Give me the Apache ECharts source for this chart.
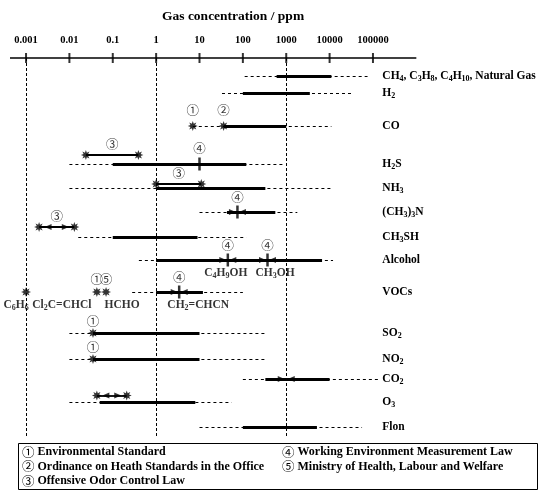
<!DOCTYPE html>
<html><head><meta charset="utf-8">
<script src="https://cdn.jsdelivr.net/npm/echarts@6/dist/echarts.min.js"></script>
<style>html,body{margin:0;padding:0;background:#fff}#c{width:545px;height:496px}</style>
</head><body><div id="c"></div>
<script>
// ================= DATA =================
const tickValues = [0.001, 0.01, 0.1, 1, 10, 100, 1000, 10000, 100000];
const tickLabels = ['0.001', '0.01', '0.1', '1', '10', '100', '1000', '10000', '100000'];
const refLines = [0.001, 1, 1000];

const rowNames = ['CH_4, C_3H_8, C_4H_{10}, Natural Gas', 'H_2', 'CO', 'H_2S', 'NH_3', '(CH_3)_3N',
  'CH_3SH', 'Alcohol', 'VOCs', 'SO_2', 'NO_2', 'CO_2', 'O_3', 'Flon'];
// dashed (extended) ranges, ppm
const dashedLo = [110, 33, 7, 0.01, 0.01, 10, 0.016, 0.4, 0.28, 0.01, 0.01, 100, 0.01, 10];
const dashedHi = [75000, 33000, 11000, 900, 11000, 1800, 120, 12000, 100, 330, 330, 130000, 55, 56000];
// solid (main) ranges, ppm
const solidLo = [600, 100, 36, 0.1, 1, 43, 0.1, 1, 1, 0.035, 0.035, 330, 0.05, 100];
const solidHi = [11000, 3500, 1000, 120, 330, 560, 9, 6700, 12, 10, 10, 10000, 8, 5100];

// standard values drawn as stars
const starRow = [2, 2, 8, 8, 8, 9, 10];
const starVal = [7, 36, 0.001, 0.043, 0.07, 0.035, 0.035];
// standard values drawn as crosses
const crossRow = [3, 5, 7, 7, 8];
const crossVal = [10, 75, 45, 370, 3.4];
// values pointed at by a pair of arrows
const arrowRow = [5, 7, 7, 8, 11];
const arrowVal = [75, 45, 370, 3.4, 1000];
// circled law numbers
const lawRow = [2, 2, 3, 5, 7, 7, 8, 8, 8, 9, 10];
const lawVal = [7, 36, 10, 75, 45, 370, 3.4, 0.043, 0.07, 0.035, 0.035];
const lawMark = ['①', '②', '④', '④', '④', '④', '④', '①', '⑤', '①', '①'];
// Offensive Odor Control Law ranges (③)
const odorRow = [3, 4, 6, 12];
const odorLo = [0.024, 1, 0.002, 0.043];
const odorHi = [0.39, 11, 0.013, 0.21];
const odorArrows = [false, false, true, true];
const odorLabelled = [true, true, true, false];
// compound names
const compRow = [7, 7, 8, 8, 8, 8];
const compVal = [45, 370, 0.001, 0.043, 0.07, 3.4];
const compName = ['C_4H_9OH', 'CH_3OH', 'C_6H_6', 'Cl_2C=CHCl', 'HCHO', 'CH_2=CHCN'];
// notes box
const notes1 = ['① Environmental Standard', '② Ordinance on Heath Standards in the Office', '③ Offensive Odor Control Law'];
const notes2 = ['④ Working Environment Measurement Law', '⑤ Ministry of Health, Labour and Welfare'];

// ================= LAYOUT / STYLE =================
const FONT = 'Liberation Serif';
const CJK = 'Noto Sans CJK JP';
const ROW_POS = [18, 35, 68, 106, 130, 154, 179, 202, 234, 275, 301, 321, 344, 369]; // px below axis
const Y_MAX = 380;
const ODOR_LIFT = [9, 4, 10, 6.5];
const LAW_LIFT = [16, 16, 16, 15, 15, 15, 15, 13, 13, 11.5, 12];
const COMP_OFF = [[-2, 13], [7.5, 13], [-10, 13], [-35, 13], [16, 13], [19, 13]];
const AXIS_START = Math.pow(10, -3.37);

function rt(s) { return s.replace(/_\{([^}]*)\}|_(.)/g, (m, a, b) => '{s|' + (a || b) + '}'); }
function subRich(fs) {
  return { s: { fontFamily: FONT, fontWeight: 'bold', fontSize: Math.round(fs * 0.72), verticalAlign: 'bottom', lineHeight: fs * 0.82, color: '#000' } };
}
function starPath(n, r1, r2) {
  let d = '';
  for (let i = 0; i < 2 * n; i++) {
    const r = i % 2 ? r2 : r1, a = Math.PI * i / n - Math.PI / 2;
    d += (i ? 'L' : 'M') + (r * Math.cos(a)).toFixed(3) + ' ' + (r * Math.sin(a)).toFixed(3);
  }
  return 'path://' + d + 'Z';
}
const STAR = starPath(8, 1, 0.5);

const series = [];
// axis line
series.push({
  type: 'line', data: [[AXIS_START, 0], [1e6, 0]], symbol: 'none', clip: false, silent: true, z: 5,
  lineStyle: { color: '#000', width: 1.6 }
});
// reference verticals
series.push({
  type: 'lines', coordinateSystem: 'cartesian2d', silent: true, z: 1, clip: false,
  lineStyle: { color: '#000', width: 1, type: [3, 2], opacity: 1 },
  data: refLines.map(v => ({ coords: [[v, 0], [v, Y_MAX]] }))
});
// axis ticks
series.push({
  type: 'scatter', data: tickValues.map(v => [v, 0]), symbol: 'rect', symbolSize: [2, 10], clip: false, silent: true, z: 5,
  itemStyle: { color: '#000' }
});
// dashed ranges
series.push({
  type: 'lines', coordinateSystem: 'cartesian2d', silent: true, z: 2,
  lineStyle: { color: '#000', width: 1, type: [3, 3], opacity: 1 },
  data: rowNames.map((n, i) => ({ coords: [[dashedLo[i], ROW_POS[i]], [dashedHi[i], ROW_POS[i]]] }))
});
// solid ranges
series.push({
  type: 'lines', coordinateSystem: 'cartesian2d', silent: true, z: 3,
  lineStyle: { color: '#000', width: 3, opacity: 1 },
  data: rowNames.map((n, i) => ({ coords: [[solidLo[i], ROW_POS[i]], [solidHi[i], ROW_POS[i]]] }))
});
// odor range connectors
series.push({
  type: 'lines', coordinateSystem: 'cartesian2d', silent: true, z: 3,
  lineStyle: { color: '#000', width: 1.8, opacity: 1 },
  data: odorRow.map((r, i) => ({ coords: [[odorLo[i], ROW_POS[r] - ODOR_LIFT[i]], [odorHi[i], ROW_POS[r] - ODOR_LIFT[i]]] }))
});
// stars (standards + odor ends)
const starData = starRow.map((r, i) => [starVal[i], ROW_POS[r]]);
odorRow.forEach((r, i) => { starData.push([odorLo[i], ROW_POS[r] - ODOR_LIFT[i]]); starData.push([odorHi[i], ROW_POS[r] - ODOR_LIFT[i]]); });
series.push({
  type: 'scatter', data: starData, symbol: STAR, symbolSize: 10, clip: false, silent: true, z: 6,
  itemStyle: { color: '#000' }
});
// crosses
series.push({
  type: 'scatter', data: crossRow.map((r, i) => [crossVal[i], ROW_POS[r]]), symbol: 'rect', symbolSize: [2.5, 13],
  clip: false, silent: true, z: 6, itemStyle: { color: '#000' }
});
// arrows pointing at a value
const arrowData = [];
arrowRow.forEach((r, i) => {
  arrowData.push({ value: [arrowVal[i], ROW_POS[r]], symbolRotate: -90, symbolOffset: [-5, 0] });
  arrowData.push({ value: [arrowVal[i], ROW_POS[r]], symbolRotate: 90, symbolOffset: [5, 0] });
});
odorRow.forEach((r, i) => {
  if (!odorArrows[i]) return;
  const y = ROW_POS[r] - ODOR_LIFT[i];
  arrowData.push({ value: [odorLo[i], y], symbolRotate: 90, symbolOffset: [9, 0] });
  arrowData.push({ value: [odorHi[i], y], symbolRotate: -90, symbolOffset: [-9, 0] });
});
series.push({
  type: 'scatter', data: arrowData, symbol: 'triangle', symbolSize: [6, 7], clip: false, silent: true, z: 6,
  itemStyle: { color: '#000' }
});
// circled law numbers
const lawData = lawRow.map((r, i) => ({ value: [lawVal[i], ROW_POS[r]], label: { formatter: lawMark[i], offset: [0, -LAW_LIFT[i]] } }));
odorRow.forEach((r, i) => {
  if (!odorLabelled[i]) return;
  lawData.push({ value: [Math.sqrt(odorLo[i] * odorHi[i]), ROW_POS[r] - ODOR_LIFT[i]], label: { formatter: '③', offset: [0, -11] } });
});
series.push({
  type: 'scatter', data: lawData, symbol: 'circle', symbolSize: 1, clip: false, silent: true, z: 7,
  itemStyle: { color: 'rgba(0,0,0,0)' },
  label: { show: true, position: 'inside', fontFamily: CJK, fontSize: 12.5, color: '#000' }
});
// compound names
series.push({
  type: 'scatter', symbol: 'circle', symbolSize: 1, clip: false, silent: true, z: 7,
  itemStyle: { color: 'rgba(0,0,0,0)' },
  data: compRow.map((r, i) => ({ value: [compVal[i], ROW_POS[r]], label: { formatter: rt(compName[i]), offset: COMP_OFF[i] } })),
  label: { show: true, position: 'inside', fontFamily: FONT, fontWeight: 'bold', fontSize: 11.5, lineHeight: 14, color: '#000', rich: subRich(11.5) }
});

const noteStyle = t => ({
  text: '{c|' + t[0] + '}' + t.slice(1), fontFamily: FONT, fontWeight: 'bold', fontSize: 12, fill: '#000', verticalAlign: 'middle',
  rich: { c: { fontFamily: CJK, fontSize: 12.5, fill: '#000' } }
});

const chart = echarts.init(document.getElementById('c'), null, { renderer: 'canvas' });
chart.setOption({
  animation: false,
  backgroundColor: '#fff',
  title: {
    text: 'Gas concentration / ppm', left: 157, top: 5,
    textStyle: { fontFamily: FONT, fontWeight: 'bold', fontSize: 13.5, color: '#000' }
  },
  grid: { left: -17.333, right: 128.667, top: 58, height: Y_MAX, containLabel: false, outerBoundsMode: 'none' },
  xAxis: {
    type: 'log', logBase: 10, min: 1e-4, max: 1e6, splitNumber: 10, position: 'top',
    axisLine: { show: false }, axisTick: { show: false }, splitLine: { show: false },
    axisLabel: {
      margin: 12, color: '#000', fontFamily: FONT, fontWeight: 'bold', fontSize: 10.5,
      formatter: v => { const k = Math.round(Math.log10(v)) + 3; return (k >= 0 && k < tickLabels.length) ? tickLabels[k] : ''; }
    }
  },
  yAxis: {
    type: 'value', inverse: true, min: 0, max: Y_MAX, position: 'right', offset: -34,
    axisLine: { show: false }, axisTick: { show: false }, splitLine: { show: false },
    axisLabel: {
      customValues: ROW_POS, margin: 0, color: '#000', fontFamily: FONT, fontWeight: 'bold', fontSize: 11.5, lineHeight: 14,
      rich: subRich(11.5),
      formatter: v => { const i = ROW_POS.indexOf(v); return i >= 0 ? rt(rowNames[i]) : ''; }
    }
  },
  series: series,
  graphic: [
    { type: 'rect', shape: { x: 18.5, y: 443.5, width: 519, height: 46 }, style: { fill: '#fff', stroke: '#000', lineWidth: 1 }, z: 10 },
    ...notes1.map((t, i) => ({ type: 'text', x: 22, y: 452 + i * 14.5, z: 11, style: noteStyle(t) })),
    ...notes2.map((t, i) => ({ type: 'text', x: 282, y: 452 + i * 14.5, z: 11, style: noteStyle(t) }))
  ]
});
</script></body></html>
